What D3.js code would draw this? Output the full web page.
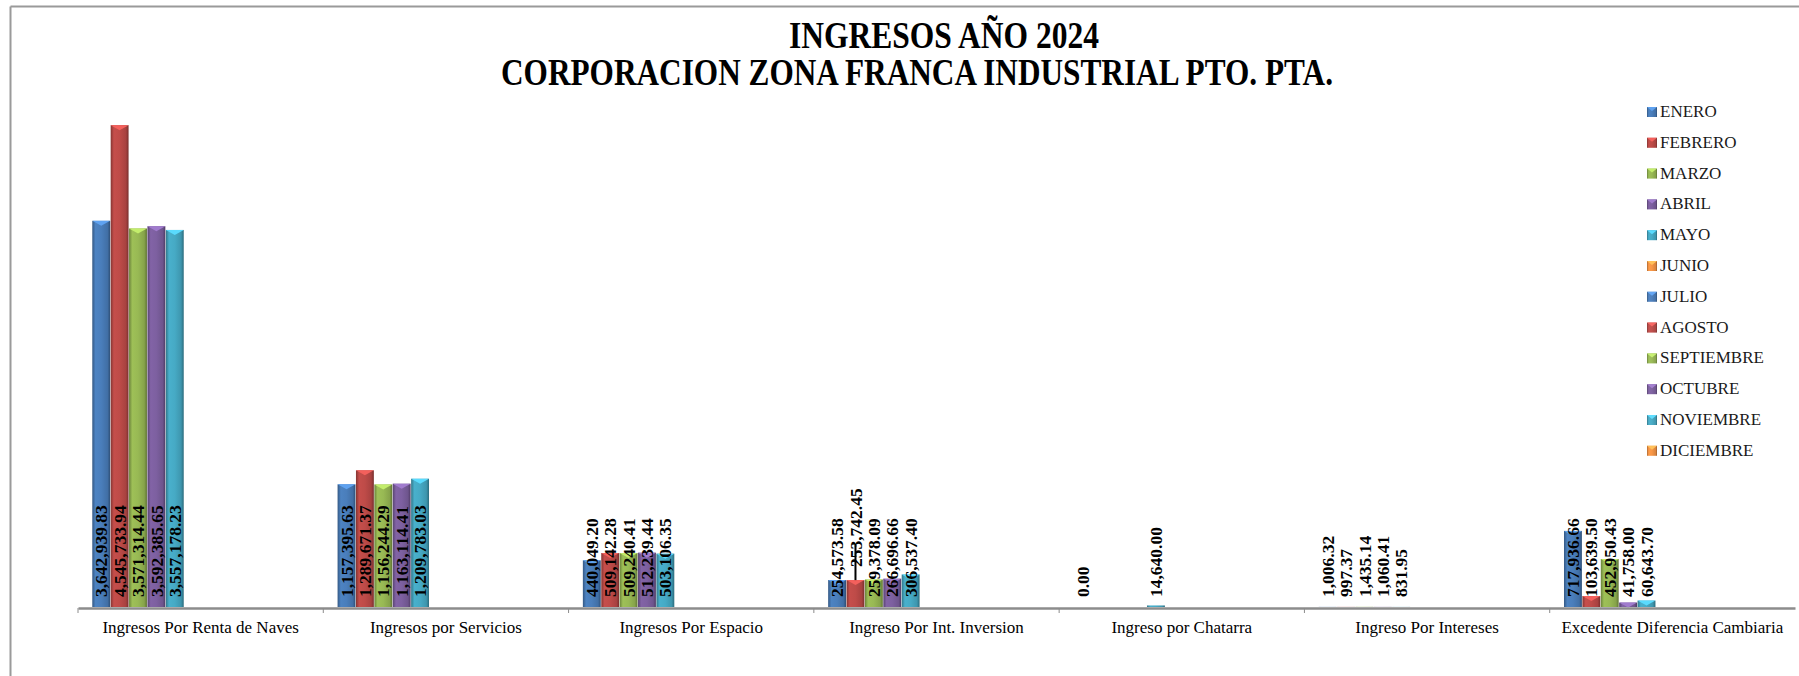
<!DOCTYPE html>
<html lang="es">
<head>
<meta charset="UTF-8">
<title>INGRESOS AÑO 2024</title>
<script src="https://cdn.jsdelivr.net/npm/d3@7"></script>
<style>
    body { margin: 0; background: #fff; }
    svg { display: block; font-family: "Liberation Serif", "Times New Roman", serif; }
    .cat-label { font-size: 17px; fill: #000; }
    .val-label { font-size: 17.5px; font-weight: bold; fill: #000; }
    .legend text { font-size: 17px; fill: #1a1a1a; }
    .title { font-size: 37px; font-weight: bold; fill: #000; }
</style>
</head>
<body>
<div id="chart"></div>
<script>
// categories on the x axis
const categories = [
    "Ingresos Por Renta de Naves",
    "Ingresos por Servicios",
    "Ingresos Por Espacio",
    "Ingreso Por Int. Inversion",
    "Ingreso por Chatarra",
    "Ingreso Por Intereses",
    "Excedente Diferencia Cambiaria"
];

const months = ["ENERO", "FEBRERO", "MARZO", "ABRIL", "MAYO", "JUNIO",
    "JULIO", "AGOSTO", "SEPTIEMBRE", "OCTUBRE", "NOVIEMBRE", "DICIEMBRE"];

// one array per month, same order as categories (null = no data)
const enero   = [3642939.83, 1157395.63, 440049.20, 254573.58, 0.00, 1006.32, 717936.66];
const febrero = [4545733.94, 1289671.37, 509142.28, 253742.45, null, 997.37, 103639.50];
const marzo   = [3571314.44, 1156244.29, 509240.41, 259378.09, null, 1435.14, 452950.43];
const abril   = [3592385.65, 1163114.41, 512239.44, 266696.66, null, 1060.41, 41758.00];
const mayo    = [3557178.23, 1209783.03, 503106.35, 306537.40, 14640.00, 831.95, 60643.70];
const empty   = [null, null, null, null, null, null, null];

const seriesValues = [enero, febrero, marzo, abril, mayo,
    empty, empty, empty, empty, empty, empty, empty];

const colors = ["#4a7ebb", "#be4b48", "#98b954", "#7d60a0", "#46aac5", "#f79646",
    "#4f81bd", "#c0504d", "#9bbb59", "#8064a2", "#4bacc6", "#f79646"];

const W = 1799, H = 676;
const fmt = d3.format(",.2f");

const svg = d3.select("#chart").append("svg")
    .attr("width", W)
    .attr("height", H);

// outer chart border (only top and left visible)
svg.append("line").attr("x1", 10.5).attr("x2", W).attr("y1", 6.5).attr("y2", 6.5)
    .attr("stroke", "#9a9a9a").attr("stroke-width", 2);
svg.append("line").attr("x1", 10.5).attr("x2", 10.5).attr("y1", 6.5).attr("y2", H)
    .attr("stroke", "#9a9a9a").attr("stroke-width", 2);

// title (text in original is narrow, so squeeze it)
svg.append("text").attr("class", "title")
    .attr("x", 789).attr("y", 48)
    .attr("textLength", 310).attr("lengthAdjust", "spacingAndGlyphs")
    .text("INGRESOS AÑO 2024");
svg.append("text").attr("class", "title")
    .attr("x", 501).attr("y", 85)
    .attr("textLength", 832).attr("lengthAdjust", "spacingAndGlyphs")
    .text("CORPORACION ZONA FRANCA INDUSTRIAL PTO. PTA.");

// gradients for the bevelled bars
const defs = svg.append("defs");
colors.forEach((c, i) => {
    const base = d3.color(c);
    const g = defs.append("linearGradient").attr("id", "grad" + i)
        .attr("x1", 0).attr("x2", 1).attr("y1", 0).attr("y2", 0);
    g.append("stop").attr("offset", "0%").attr("stop-color", base.darker(1));
    g.append("stop").attr("offset", "18%").attr("stop-color", base.brighter(0.1));
    g.append("stop").attr("offset", "50%").attr("stop-color", base);
    g.append("stop").attr("offset", "85%").attr("stop-color", base.darker(0.35));
    g.append("stop").attr("offset", "100%").attr("stop-color", base.darker(1.3));
});

// scales
const x0 = d3.scaleBand().domain(categories).range([78, 1795]);
const x1 = d3.scaleBand().domain(months).range([0, x0.bandwidth()])
    .paddingOuter(0.67).align(0.58);
const y = d3.scaleLinear().domain([0, 5000000]).range([607, 77]);

const bw = x1.bandwidth() - 0.5;

// flatten data
const bars = [];
seriesValues.forEach((arr, mi) => {
    arr.forEach((v, ci) => {
        if (v !== null) bars.push({ month: months[mi], mi: mi, cat: categories[ci], value: v });
    });
});

const barG = svg.append("g");
barG.selectAll("rect")
    .data(bars)
    .enter()
    .append("rect")
    .attr("x", d => x0(d.cat) + x1(d.month))
    .attr("y", d => y(d.value))
    .attr("width", bw)
    .attr("height", d => y(0) - y(d.value))
    .attr("fill", d => "url(#grad" + d.mi + ")");

// bevel cap on top of bars
barG.selectAll("path.cap")
    .data(bars.filter(d => y(0) - y(d.value) > 4))
    .enter()
    .append("path")
    .attr("class", "cap")
    .attr("d", d => {
        const bx = x0(d.cat) + x1(d.month), by = y(d.value);
        return `M${bx},${by} L${bx + bw},${by} L${bx + bw / 2},${by + 5} Z`;
    })
    .attr("fill", d => d3.color(colors[d.mi]).brighter(0.7));

// x axis
const axis = d3.axisBottom(x0).tickSize(0).tickFormat("");
const gx = svg.append("g").attr("transform", "translate(0,608)").call(axis);
gx.select(".domain").attr("stroke", "#8c8c8c").attr("stroke-width", 2.5);
gx.selectAll(".tick").remove();

// tick marks at category boundaries
svg.append("g").selectAll("line")
    .data(categories)
    .enter()
    .append("line")
    .attr("x1", d => x0(d)).attr("x2", d => x0(d))
    .attr("y1", 608).attr("y2", 613)
    .attr("stroke", "#8c8c8c").attr("stroke-width", 1);

svg.append("g").selectAll("text")
    .data(categories)
    .enter()
    .append("text")
    .attr("class", "cat-label")
    .attr("x", d => x0(d) + x0.bandwidth() / 2)
    .attr("y", 633)
    .attr("text-anchor", "middle")
    .text(d => d);

// value labels, inside base, rotated
const liftLabel = { cat: "Ingreso Por Int. Inversion", month: "FEBRERO", lift: 30 };

svg.append("g").selectAll("text")
    .data(bars)
    .enter()
    .append("text")
    .attr("class", "val-label")
    .attr("transform", d => {
        const cx = x0(d.cat) + x1(d.month) + bw / 2;
        const lift = (d.cat === liftLabel.cat && d.month === liftLabel.month) ? liftLabel.lift : 0;
        return `translate(${cx},${597 - lift}) rotate(-90)`;
    })
    .attr("dy", "0.35em")
    .text(d => fmt(d.value));

// leader line for the moved label
const lb = bars.find(d => d.cat === liftLabel.cat && d.month === liftLabel.month);
svg.append("line")
    .attr("x1", x0(lb.cat) + x1(lb.month) + bw / 2)
    .attr("x2", x0(lb.cat) + x1(lb.month) + bw / 2)
    .attr("y1", y(lb.value))
    .attr("y2", y(lb.value) - 35)
    .attr("stroke", "#000").attr("stroke-width", 2);

// legend
const legend = svg.append("g").attr("class", "legend");
const item = legend.selectAll("g")
    .data(months)
    .enter()
    .append("g")
    .attr("transform", (d, i) => `translate(1647,${117 + i * 30.8})`);
item.append("rect")
    .attr("x", 0).attr("y", -10)
    .attr("width", 10).attr("height", 10)
    .attr("fill", (d, i) => "url(#grad" + i + ")");
item.append("path")
    .attr("d", "M0,-10 L10,-10 L5,-6 Z")
    .attr("fill", (d, i) => d3.color(colors[i]).brighter(0.7));
item.append("text")
    .attr("x", 13).attr("y", 0)
    .text(d => d);
</script>
</body>
</html>
